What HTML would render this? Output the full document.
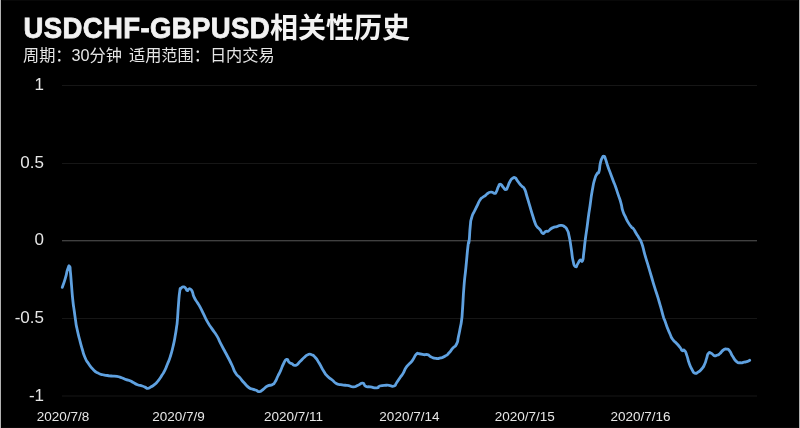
<!DOCTYPE html>
<html><head><meta charset="utf-8"><title>USDCHF-GBPUSD相关性历史</title>
<style>
html,body{margin:0;padding:0;background:#b2b2b2;width:800px;height:428px;overflow:hidden}
.box{position:absolute;left:1px;top:0;width:798px;height:428px;background:#000}
.edge{position:absolute;left:2px;width:796px;height:1px;background:#080808}
svg{position:absolute;left:0;top:0;will-change:transform}
text{font-family:"Liberation Sans","Noto Sans CJK SC",sans-serif}
</style></head>
<body>
<div class="box"></div>
<div class="edge" style="top:0"></div>
<div class="edge" style="top:427px"></div>
<svg width="800" height="428" viewBox="0 0 800 428">
<g fill="#f2f2f2" font-weight="bold"><text transform="translate(23.5,38.0) scale(0.95,1)" font-size="29" stroke="#f2f2f2" stroke-width="0.8" letter-spacing="0.4">USDCHF-GBPUSD</text><text x="270" y="38.0" font-size="28" stroke="#f2f2f2" stroke-width="0">相关性历史</text></g>
<text x="23" y="60.7" fill="#e6e6e6" font-size="16.2" word-spacing="2.5">周期：30分钟 适用范围：日内交易</text>
<g stroke="#161616" stroke-width="1"><line x1="62" x2="757" y1="85.5" y2="85.5"/><line x1="62" x2="757" y1="163.5" y2="163.5"/><line x1="62" x2="757" y1="240.75" y2="240.75"/><line x1="62" x2="757" y1="318.5" y2="318.5"/><line x1="62" x2="757" y1="396.0" y2="396.0"/></g>
<line x1="62" x2="757" y1="240.75" y2="240.75" stroke="#505050" stroke-width="1"/>
<g fill="#e6e6e6" font-size="17" text-anchor="end"><text x="44" y="90.0">1</text><text x="44" y="168.0">0.5</text><text x="44" y="245.25">0</text><text x="44" y="323.0">-0.5</text><text x="44" y="400.5">-1</text></g>
<g fill="#e6e6e6" font-size="13.5" text-anchor="middle"><text x="63" y="420.6">2020/7/8</text><text x="178.6" y="420.6">2020/7/9</text><text x="293.5" y="420.6">2020/7/11</text><text x="409.4" y="420.6">2020/7/14</text><text x="524.75" y="420.6">2020/7/15</text><text x="640.6" y="420.6">2020/7/16</text></g>
<path d="M62.3 287.4C63.3 284.4 63.48 284.53 65.3 278.4C67.12 272.27 66.32 272.97 67.75 269C69.18 265.03 68.72 265.53 69.6 266.5C70.48 267.47 69.77 265.73 70.4 271.9C71.03 278.07 70.7 275.63 71.5 285C72.3 294.37 71.87 291.23 72.8 300C73.73 308.77 73.37 304.43 74.3 311.3C75.23 318.17 74.77 315.1 75.6 320.6C76.43 326.1 75.53 321.75 76.8 327.8C78.07 333.85 77.6 331.68 79.4 338.75C81.2 345.82 80.33 342.75 82.2 349C84.07 355.25 82.82 352.5 85 357.5C87.18 362.5 85.95 359.93 88.75 364C91.55 368.07 90.28 366.67 93.4 369.7C96.52 372.73 94.97 371.42 98.1 373.1C101.23 374.78 99.67 373.95 102.8 374.75C105.93 375.55 104.68 375.08 107.5 375.5C110.32 375.92 108.12 375.73 111.25 376C114.38 376.27 113.45 375.72 116.9 376.3C120.35 376.88 118.48 376.65 121.6 377.75C124.72 378.85 123.45 378.6 126.25 379.6C129.05 380.6 127.5 379.68 130 380.75C132.5 381.82 131.25 381.48 133.75 382.8C136.25 384.12 134.68 383.63 137.5 384.7C140.32 385.77 139.7 385.2 142.2 386C144.7 386.8 143.13 386.3 145 387.1C146.87 387.9 145.93 388.4 147.8 388.4C149.67 388.4 148.4 388.33 150.6 387.1C152.8 385.87 151.9 386.77 154.4 384.7C156.9 382.63 155.6 384.03 158.1 380.9C160.6 377.77 159.7 378.73 161.9 375.3C164.1 371.87 162.83 374.37 164.7 370.6C166.57 366.83 165.63 368.67 167.5 364C169.37 359.33 168.43 362.52 170.3 356.6C172.17 350.68 171.53 352.82 173.1 346.25C174.67 339.68 173.87 343.15 175 336.9C176.13 330.65 175.7 333.13 176.5 327.5C177.3 321.87 176.77 327.3 177.4 320C178.03 312.7 177.63 315.07 178.4 305.6C179.17 296.13 178.83 297.33 179.7 291.6C180.57 285.87 179.77 289.97 181 288.4C182.23 286.83 181.97 287.1 183.4 286.9C184.83 286.7 184.03 286.57 185.3 287.8C186.57 289.03 186.13 290.1 187.2 290.6C188.27 291.1 187.43 289.8 188.5 289.3C189.57 288.8 189.13 288.33 190.4 289.1C191.67 289.87 191.07 288.9 192.3 291.6C193.53 294.3 192.37 293.47 194.1 297.2C195.83 300.93 195.53 299.57 197.5 302.8C199.47 306.03 197.92 303.03 200 306.9C202.08 310.77 201.25 309.4 203.75 314.4C206.25 319.4 204.85 317.23 207.5 321.9C210.15 326.57 208.57 323.73 211.7 328.4C214.83 333.07 213.93 330.9 216.9 335.9C219.87 340.9 218.1 338.53 220.6 343.4C223.1 348.27 221.9 345.8 224.4 350.5C226.9 355.2 225.6 352.67 228.1 357.5C230.6 362.33 229.4 359.8 231.9 365C234.4 370.2 233.1 369.03 235.6 373.1C238.1 377.17 236.57 373.97 239.4 377.2C242.23 380.43 240.98 379.37 244.1 382.8C247.22 386.23 245.65 385.3 248.75 387.5C251.85 389.7 250.9 388.47 253.4 389.4C255.9 390.33 254.35 389.57 256.25 390.3C258.15 391.03 256.92 391.78 259.1 391.6C261.28 391.42 260 391.62 262.8 389.75C265.6 387.88 264.37 387.68 267.5 386C270.63 384.32 269.7 386.07 272.2 384.7C274.7 383.33 273.13 384.72 275 381.9C276.87 379.08 275.93 380.02 277.8 376.25C279.67 372.48 278.73 374.68 280.6 370.6C282.47 366.52 281.4 367.73 283.4 364C285.4 360.27 284.7 360 286.6 359.4C288.5 358.8 287.47 360.8 289.1 362.2C290.73 363.6 289.27 362.57 291.5 363.6C293.73 364.63 292.97 366 295.8 365.3C298.63 364.6 297.23 364.1 300 361.5C302.77 358.9 301.5 359.77 304.1 357.5C306.7 355.23 305.3 355.63 307.8 354.7C310.3 353.77 309.1 353.77 311.6 354.7C314.1 355.63 312.8 354.7 315.3 357.5C317.8 360.3 316.28 358.5 319.1 363.1C321.92 367.7 320.95 366.93 323.75 371.3C326.55 375.67 324.68 373.3 327.5 376.2C330.32 379.1 329.4 377.67 332.2 380C335 382.33 333.1 381.63 335.9 383.2C338.7 384.77 337.47 384.02 340.6 384.7C343.73 385.38 342.58 384.95 345.3 385.25C348.02 385.55 346.05 385.05 348.75 385.6C351.45 386.15 350.28 387.02 353.4 386.9C356.52 386.78 354.97 386.48 358.1 385.25C361.23 384.02 360.3 382.88 362.8 383.2C365.3 383.52 363.1 384.97 365.6 386.2C368.1 387.43 366.53 386.33 370.3 386.9C374.07 387.47 373.77 388.2 376.9 387.9C380.03 387.6 376.58 386.88 379.7 386C382.82 385.12 382.82 385.38 386.25 385.25C389.68 385.12 387.38 385.35 390 385.6C392.62 385.85 391.9 386.93 394.1 386C396.3 385.07 394.53 385.73 396.6 382.8C398.67 379.87 398.13 380.33 400.3 377.2C402.47 374.07 401.23 376.53 403.1 373.4C404.97 370.27 404.02 370.8 405.9 367.8C407.78 364.8 406.55 366.9 408.75 364.4C410.95 361.9 410 363.67 412.5 360.3C415 356.93 414.05 356.48 416.25 354.3C418.45 352.12 416.6 353.62 419.1 353.75C421.6 353.88 420.95 354.38 423.75 354.7C426.55 355.02 425 353.93 427.5 354.7C430 355.47 428.45 355.77 431.25 357C434.05 358.23 432.78 358.1 435.9 358.4C439.02 358.7 437.47 358.7 440.6 357.9C443.73 357.1 442.47 357.7 445.3 356C448.13 354.3 446.6 355.43 449.1 352.8C451.6 350.17 450.3 351.03 452.8 348.1C455.3 345.17 454.73 347.73 456.6 344C458.47 340.27 457.17 342.4 458.4 336.9C459.63 331.4 459.23 333.13 460.3 327.5C461.37 321.87 460.87 325.93 461.6 320C462.33 314.07 461.7 320.95 462.5 309.7C463.3 298.45 462.87 300.32 464 286.25C465.13 272.18 464.53 281.25 465.9 267.5C467.27 253.75 467.03 253.75 468.1 245C469.17 236.25 468.38 247.5 469.1 241.25C469.82 235 469.42 234.07 470.25 226.25C471.08 218.43 470.22 222.8 471.6 217.8C472.98 212.8 472.53 215.32 474.4 211.25C476.27 207.18 475.33 209.35 477.2 205.6C479.07 201.85 478.13 202.8 480 200C481.87 197.2 480.93 198.77 482.8 197.2C484.67 195.63 483.73 196.73 485.6 195.3C487.47 193.87 486.35 193.97 488.4 192.9C490.45 191.83 489.68 191.93 491.75 192.1C493.82 192.27 493.05 193.57 494.6 193.4C496.15 193.23 495.17 193.77 496.4 191.6C497.63 189.43 497.03 189.4 498.3 186.9C499.57 184.4 498.63 184.1 500.2 184.1C501.77 184.1 501.13 185.03 503 186.9C504.87 188.77 504.23 189.7 505.8 189.7C507.37 189.7 506.43 189.4 507.7 186.9C508.97 184.4 508.03 185.03 509.6 182.2C511.17 179.37 510.53 179.83 512.4 178.4C514.27 176.97 513.63 177.27 515.2 177.9C516.77 178.53 515.53 178.23 517.1 180.3C518.67 182.37 518.2 182.03 519.9 184.1C521.6 186.17 520.63 184.83 522.2 186.5C523.77 188.17 523.03 185.85 524.6 189.1C526.17 192.35 525.2 190.75 526.9 196.25C528.6 201.75 527.83 199.35 529.7 205.6C531.57 211.85 530.63 209.07 532.5 215C534.37 220.93 533.73 219.47 535.3 223.4C536.87 227.33 535.63 224.73 537.2 226.8C538.77 228.87 538.13 227.4 540 229.6C541.87 231.8 540.93 232.77 542.8 233.4C544.67 234.03 543.73 232.33 545.6 231.5C547.47 230.67 546.52 231.9 548.4 230.9C550.28 229.9 549.35 229.73 551.25 228.5C553.15 227.27 552.22 227.83 554.1 227.2C555.98 226.57 554.73 227.23 556.9 226.6C559.07 225.97 558.1 225.3 560.6 225.3C563.1 225.3 562.2 225.03 564.4 226.6C566.6 228.17 565.6 226.7 567.2 230C568.8 233.3 567.85 230.25 569.2 236.5C570.55 242.75 569.95 240.58 571.25 248.75C572.55 256.92 571.72 255.05 573.1 261C574.48 266.95 573.83 265.68 575.4 266.6C576.97 267.52 576.18 265.95 577.8 263.75C579.42 261.55 578.68 260.98 580.25 260C581.82 259.02 581.33 263.1 582.5 260.8C583.67 258.5 582.83 260.03 583.75 253.1C584.67 246.17 584.13 248.73 585.25 240C586.37 231.27 586.02 234.9 587.1 226.9C588.18 218.9 587.53 222.97 588.5 216C589.47 209.03 588.75 214.47 590 206C591.25 197.53 590.68 199.47 592.25 190.6C593.82 181.73 593.08 185.02 594.7 179.4C596.32 173.78 595.67 176.38 597.1 173.75C598.53 171.12 597.93 174.95 599 171.5C600.07 168.05 599.23 167.97 600.3 163.4C601.37 158.83 600.97 160.1 602.2 157.8C603.43 155.5 602.93 156.18 604 156.5C605.07 156.82 604.13 155.5 605.4 158.75C606.67 162 606.07 161.25 607.8 166.25C609.53 171.25 608.73 168.75 610.6 173.75C612.47 178.75 611.83 177.17 613.4 181.25C614.97 185.33 613.73 181.62 615.3 186C616.87 190.38 616.23 188.8 618.1 194.4C619.97 200 619.37 197.4 620.9 202.8C622.43 208.2 621.23 205.97 622.7 210.6C624.17 215.23 623.43 212.7 625.3 216.7C627.17 220.7 626.23 219.17 628.3 222.6C630.37 226.03 629.8 224.95 631.5 227C633.2 229.05 631.82 226.62 633.4 228.75C634.98 230.88 634.35 230.28 636.25 233.4C638.15 236.52 637.22 234.65 639.1 238.1C640.98 241.55 640.03 238.42 641.9 243.75C643.77 249.08 642.83 247.55 644.7 254.1C646.57 260.65 645.32 256.1 647.5 263.4C649.68 270.7 648.92 268.17 651.25 276C653.58 283.83 652.32 279.83 654.5 286.9C656.68 293.97 655.77 290.63 657.8 297.2C659.83 303.77 658.73 300.03 660.6 306.6C662.47 313.17 662 312.27 663.4 316.9C664.8 321.53 663.7 317.5 664.8 320.5C665.9 323.5 664.97 321.4 666.7 325.9C668.43 330.4 667.97 329.47 670 334C672.03 338.53 670.5 336.27 672.8 339.5C675.1 342.73 674.4 340.95 676.9 343.7C679.4 346.45 678.53 345.48 680.3 347.75C682.07 350.02 680.77 349.55 682.2 350.5C683.63 351.45 683.03 348.9 684.6 350.6C686.17 352.3 685.4 351.43 686.9 355.6C688.4 359.77 687.37 358.4 689.1 363.1C690.83 367.8 690.22 366.37 692.1 369.7C693.98 373.03 692.75 372.3 694.75 373.1C696.75 373.9 695.72 373.55 698.1 372.1C700.48 370.65 699.7 371.45 701.9 368.75C704.1 366.05 703.13 367.45 704.7 364C706.27 360.55 705.37 361.93 706.6 358.4C707.83 354.87 706.85 355.13 708.4 353.4C709.95 351.67 709.35 352.47 711.25 353.2C713.15 353.93 712.22 354.92 714.1 355.6C715.98 356.28 715.03 355.87 716.9 355.25C718.77 354.63 717.53 355.5 719.7 353.75C721.87 352 721.1 351.55 723.4 350C725.7 348.45 724.53 348.8 726.6 349.1C728.67 349.4 727.53 348.4 729.6 350.9C731.67 353.4 730.47 353.03 732.8 356.6C735.13 360.17 734.1 359.55 736.6 361.6C739.1 363.65 737.8 362.55 740.3 362.75C742.8 362.95 741.9 362.58 744.1 362.2C746.3 361.82 745.03 362.23 746.9 361.6C748.77 360.97 748.77 360.73 749.7 360.3" fill="none" stroke="#5fa1e0" stroke-width="2.8" stroke-linejoin="round" stroke-linecap="round"/>
</svg>
</body></html>
